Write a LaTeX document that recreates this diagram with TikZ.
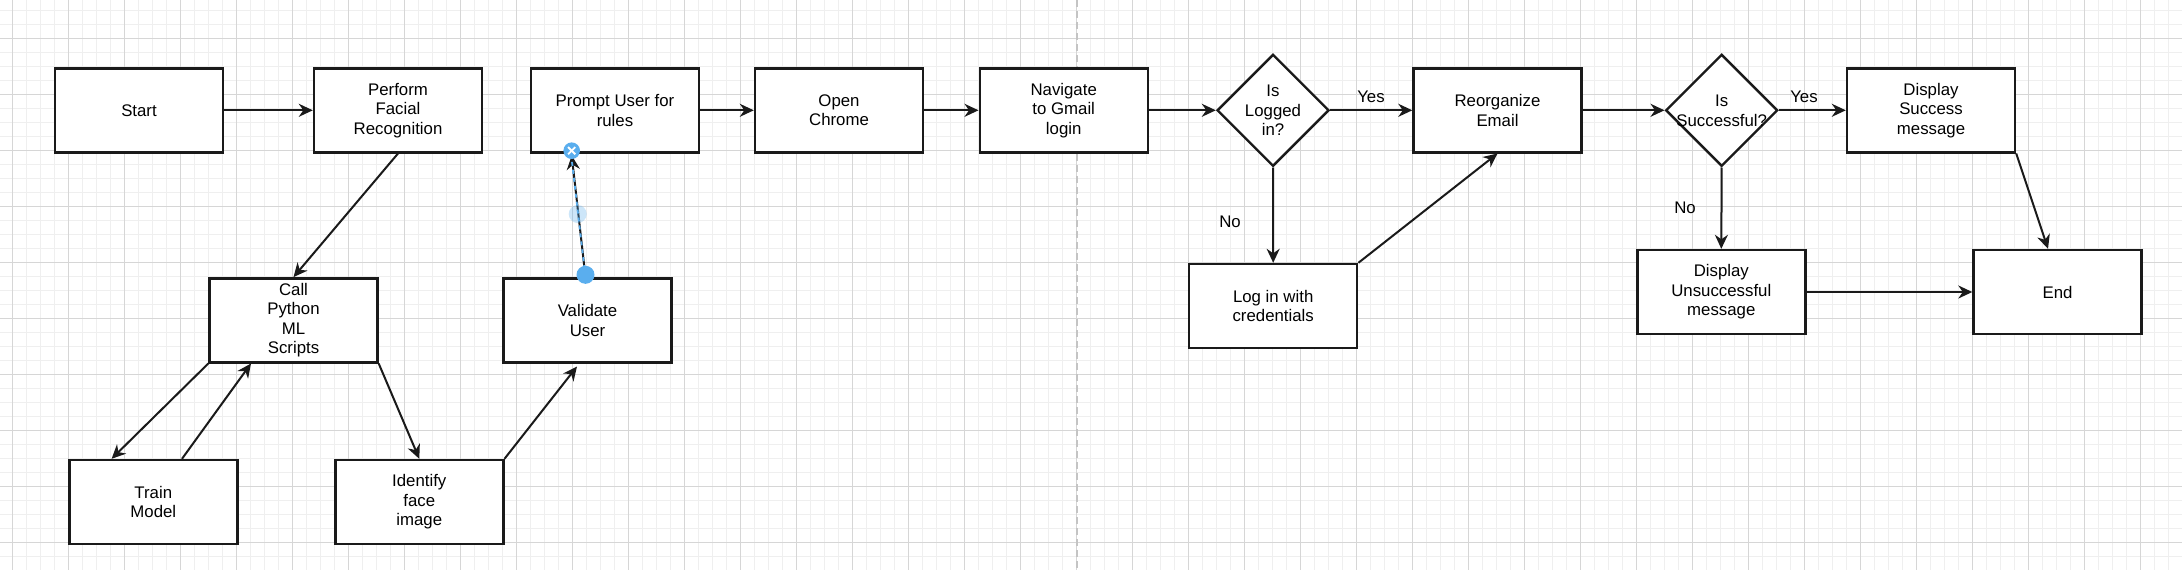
\documentclass[tikz,border=0pt]{standalone}
\usepackage{fontspec}
\setmainfont{Liberation Sans}
\usetikzlibrary{shapes.geometric,arrows.meta,calc}
\definecolor{gridmin}{HTML}{EFEFEF}
\definecolor{gridmaj}{HTML}{D6D6D6}
\definecolor{pagebrk}{HTML}{C4C4C4}
\definecolor{handle}{HTML}{5AAEEE}
\definecolor{ink}{HTML}{1A1A1A}
\begin{document}
\begin{tikzpicture}[x=1pt,y=-1pt,
  lbl/.style={font=\fontsize{16.8}{19.5}\selectfont, text=black},
  box/.style={lbl, draw=ink, line width=2.4pt, fill=white, minimum width=168pt, minimum height=84pt, inner sep=0pt, align=center},
  decision/.style={draw=ink, line width=2.4pt, fill=white, diamond, minimum width=112pt, minimum height=112pt, inner sep=0pt},
  txt/.style={lbl, align=center, inner sep=0pt},
  conn/.style={draw=ink, line width=2pt, -{Stealth[length=14pt,width=13pt,inset=4.5pt]}},
]
\useasboundingbox (0,0) rectangle (2182,570);
\fill[white] (0,0) rectangle (2182,570);
% grid
\foreach \i in {0,...,156} { \draw[gridmin, line width=1pt] ({-1.3+14*\i},0) -- ({-1.3+14*\i},570); }
\foreach \i in {0,...,40} { \draw[gridmin, line width=1pt] (0,{-3.7+14*\i}) -- (2182,{-3.7+14*\i}); }
\foreach \i in {0,...,38} { \draw[gridmaj, line width=1.3pt] ({12.7+56*\i},0) -- ({12.7+56*\i},570); }
\foreach \i in {0,...,9} { \draw[gridmaj, line width=1.3pt] (0,{38.3+56*\i}) -- (2182,{38.3+56*\i}); }
\draw[pagebrk, line width=1.6pt, dash pattern=on 7pt off 4pt] (1076.7,0) -- (1076.7,570);

% nodes
\node[box] (start) at (139,110.3) {Start};
\node[box] (perform) at (398,110.3) {Perform\\Facial\\Recognition};
\node[box] (prompt) at (615,110.3) {Prompt User for\\rules};
\node[box] (chrome) at (839,110.3) {Open\\Chrome};
\node[box] (navigate) at (1063.7,110.3) {Navigate\\to Gmail\\login};
\node[decision] (logged) at (1273,110.3) {};
\node[txt] (loggedt) at (1273,110.3) {Is\\Logged\\in?};
\node[box] (reorg) at (1497.5,110.3) {Reorganize\\Email};
\node[decision] (success) at (1721.7,110.3) {};
\node[txt] (successt) at (1721.7,110.8) {Is\\Successful?};
\node[box] (successmsg) at (1931,110.3) {Display\\Success\\message};

\node[box] (call) at (293.5,320.3) {Call\\Python\\ML\\Scripts};
\node[box] (validate) at (587.5,320.3) {Validate\\User};
\node[box] (train) at (153.3,502) {Train\\Model};
\node[box] (identify) at (419.3,502) {Identify\\face\\image};
\node[box] (login) at (1273.2,306) {Log in with\\credentials};
\node[box] (unsucc) at (1721.3,292) {Display\\Unsuccessful\\message};
\node[box] (end) at (2057.5,292) {End};

% connectors
\draw[conn] (start.east) -- (perform.west);
\draw[conn] (perform.south) -- (call.north);
\draw[conn] (call.south west) -- ([xshift=-41.7pt]train.north);
\draw[conn] ([xshift=28.7pt]train.north) -- ([xshift=-42.5pt]call.south);
\draw[conn] (call.south east) -- (identify.north);
\draw[conn] (identify.north east) -- ([xshift=-10.5pt,yshift=-3pt]validate.south);
\draw[conn] ([xshift=-2pt]validate.north) -- ([xshift=-43.3pt,yshift=-2pt]prompt.south);
\draw[handle, line width=1.8pt, dash pattern=on 4pt off 4pt] ([xshift=-2pt]validate.north) -- ([xshift=-43.3pt,yshift=-6pt]prompt.south);
\draw[conn] (prompt.east) -- (chrome.west);
\draw[conn] (chrome.east) -- (navigate.west);
\draw[conn] (navigate.east) -- (logged.west);
\draw[conn] (logged.east) -- (reorg.west);
\node[txt] (yes1) at (1371,96.5) {Yes};
\draw[conn] (logged.south) -- (login.north);
\node[txt] (no1) at (1230,222) {No};
\draw[conn] (login.north east) -- (reorg.south);
\draw[conn] (reorg.east) -- (success.west);
\draw[conn] (success.east) -- (successmsg.west);
\node[txt] (yes2) at (1804,96.5) {Yes};
\draw[conn] (success.south) -- (unsucc.north);
\node[txt] (no2) at (1685,208) {No};
\draw[conn] (successmsg.south east) -- ([xshift=-9.5pt]end.north);
\draw[conn] (unsucc.east) -- (end.west);

% selection handles
\coordinate (hsrc) at ([xshift=-2pt,yshift=2.3pt]validate.north);
\coordinate (hmid) at (577.7,214);
\coordinate (htgt) at (571.7,150.7);
\fill[handle] (hsrc) circle (9pt);
\fill[handle, opacity=0.3] (hmid) circle (9pt);
\fill[handle] (htgt) circle (8.3pt);
\draw[white, line width=1.8pt] ($(htgt)+(-3.6,-3.6)$) -- ($(htgt)+(3.6,3.6)$);
\draw[white, line width=1.8pt] ($(htgt)+(-3.6,3.6)$) -- ($(htgt)+(3.6,-3.6)$);
\end{tikzpicture}
\end{document}
